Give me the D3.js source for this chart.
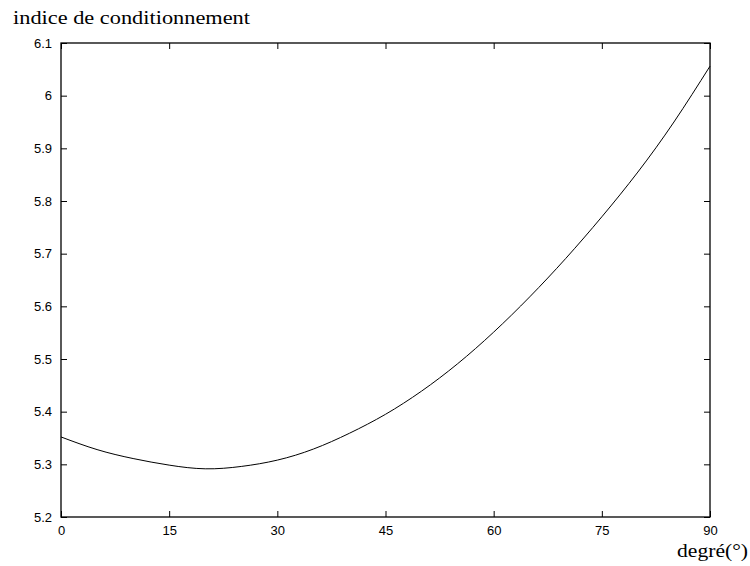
<!DOCTYPE html>
<html>
<head>
<meta charset="utf-8">
<script src="https://cdn.jsdelivr.net/npm/d3@7"></script>
<style>
  html, body { margin: 0; padding: 0; background: #fff; }
  svg { display: block; }
</style>
</head>
<body>
<svg id="chart" width="750" height="566"></svg>
<script>
// Data
const degrees = [0, 5, 10, 15, 20, 25, 30, 35, 40, 45, 50, 55, 60, 65, 70, 75, 80, 85, 90];
const indexValues = [5.352, 5.328, 5.311, 5.2985, 5.2915, 5.296, 5.308, 5.329, 5.359, 5.395, 5.439, 5.491, 5.551, 5.618, 5.691, 5.770, 5.855, 5.950, 6.056];
const xTicks = [0, 15, 30, 45, 60, 75, 90];
const yTicks = [5.2, 5.3, 5.4, 5.5, 5.6, 5.7, 5.8, 5.9, 6.0, 6.1];
const yTickLabels = ["5.2", "5.3", "5.4", "5.5", "5.6", "5.7", "5.8", "5.9", "6", "6.1"];
const yTitle = "indice de conditionnement";
const xTitle = "degré(°)";

(function () {
const svg = d3.select("#chart");
const pLeft = 61, pRight = 710, pTop = 43, pBottom = 517;

const x = d3.scaleLinear().domain([0, 90]).range([pLeft, pRight]);
const y = d3.scaleLinear().domain([5.2, 6.1]).range([pBottom, pTop]);

const tickFont = "'Liberation Sans', Arial, sans-serif";
const serifFont = "'Liberation Serif', 'DejaVu Serif', serif";

// Axes with inward ticks (mirrored)
const gB = svg.append("g").attr("transform", `translate(0,${pBottom})`)
  .call(d3.axisBottom(x).tickValues(xTicks).tickSize(-6).tickPadding(9).tickFormat(d3.format("d")));
const gT = svg.append("g").attr("transform", `translate(0,${pTop})`)
  .call(d3.axisTop(x).tickValues(xTicks).tickSize(-6).tickFormat(""));
const gL = svg.append("g").attr("transform", `translate(${pLeft},0)`)
  .call(d3.axisLeft(y).tickValues(yTicks).tickSize(-6).tickPadding(9).tickFormat((d, i) => yTickLabels[i]));
const gR = svg.append("g").attr("transform", `translate(${pRight},0)`)
  .call(d3.axisRight(y).tickValues(yTicks).tickSize(-6).tickFormat(""));

[gB, gT, gL, gR].forEach(g => {
  g.select(".domain").remove();
  g.selectAll(".tick line").attr("stroke", "#000").attr("stroke-width", 1);
  g.selectAll("text").attr("font-family", tickFont).attr("font-size", 13).attr("fill", "#000");
});

// Frame
svg.append("rect")
  .attr("x", pLeft).attr("y", pTop)
  .attr("width", pRight - pLeft).attr("height", pBottom - pTop)
  .attr("fill", "none").attr("stroke", "#000").attr("stroke-width", 1.3);

// Curve
const line = d3.line()
  .x((d, i) => x(degrees[i]))
  .y(d => y(d))
  .curve(d3.curveNatural);
svg.append("path")
  .datum(indexValues)
  .attr("d", line)
  .attr("fill", "none")
  .attr("stroke", "#000")
  .attr("stroke-width", 1);

// Titles
svg.append("text")
  .attr("x", 13).attr("y", 24)
  .attr("font-family", serifFont).attr("font-size", 19)
  .attr("textLength", 237).attr("lengthAdjust", "spacingAndGlyphs")
  .attr("fill", "#000")
  .text(yTitle);
svg.append("text")
  .attr("x", 677).attr("y", 557)
  .attr("font-family", serifFont).attr("font-size", 19)
  .attr("textLength", 71).attr("lengthAdjust", "spacingAndGlyphs")
  .attr("fill", "#000")
  .text(xTitle);
})();
</script>
</body>
</html>
